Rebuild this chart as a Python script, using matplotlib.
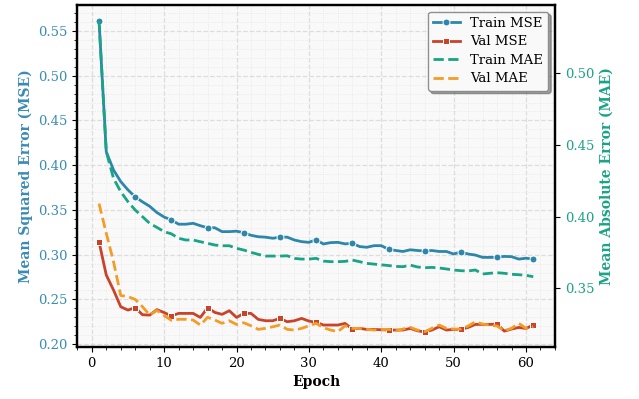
import numpy as np
import matplotlib
matplotlib.use("Agg")
import matplotlib.pyplot as plt
from matplotlib.ticker import MultipleLocator

epochs = list(range(1, 62))

train_mse = [0.5615, 0.415, 0.3946, 0.3816, 0.3723, 0.3645, 0.359, 0.354, 0.347, 0.342,
             0.3387, 0.334, 0.334, 0.335, 0.3323, 0.330, 0.330, 0.3257, 0.3257, 0.3262,
             0.3245, 0.3216, 0.320, 0.3195, 0.3183, 0.3195, 0.3195, 0.3163, 0.3145, 0.3137,
             0.3167, 0.3119, 0.3134, 0.3137, 0.312, 0.3127, 0.309, 0.3082, 0.310, 0.310,
             0.306, 0.3046, 0.3035, 0.3054, 0.3046, 0.3040, 0.3046, 0.3035, 0.3035, 0.3007,
             0.3029, 0.3007, 0.2995, 0.2969, 0.2969, 0.2969, 0.298, 0.2977, 0.2950, 0.296,
             0.2950]

val_mse = [0.3144, 0.2772, 0.2604, 0.2417, 0.238, 0.2408, 0.2328, 0.2324, 0.2385, 0.2352,
           0.2315, 0.2343, 0.2343, 0.2343, 0.2298, 0.2406, 0.2354, 0.2332, 0.2373, 0.2298,
           0.2343, 0.2343, 0.2276, 0.2261, 0.2261, 0.2287, 0.2250, 0.2261, 0.2287, 0.2257,
           0.2243, 0.2213, 0.2213, 0.2213, 0.2231, 0.2168, 0.2176, 0.2164, 0.2164, 0.2160,
           0.2157, 0.2157, 0.2157, 0.2175, 0.2149, 0.2135, 0.2157, 0.2194, 0.2157, 0.2164,
           0.2164, 0.2186, 0.222, 0.222, 0.222, 0.2224, 0.2145, 0.2168, 0.2186, 0.2175,
           0.2213]

train_mae = [0.5365, 0.4453, 0.4267, 0.4174, 0.4104, 0.4046, 0.400, 0.3953, 0.3925, 0.3895,
             0.388, 0.3849, 0.3837, 0.3837, 0.3825, 0.3814, 0.3802, 0.3797, 0.3797, 0.3779,
             0.3767, 0.3751, 0.3737, 0.3725, 0.3725, 0.3725, 0.3727, 0.3709, 0.3704, 0.3704,
             0.3709, 0.3690, 0.3686, 0.3686, 0.3688, 0.3697, 0.3686, 0.3674, 0.3669, 0.3664,
             0.3659, 0.3653, 0.3651, 0.3662, 0.3649, 0.3644, 0.3646, 0.3642, 0.3635, 0.3628,
             0.3623, 0.3621, 0.3628, 0.3600, 0.3605, 0.3609, 0.3605, 0.3598, 0.3595, 0.3591,
             0.3581]

val_mae = [0.4091, 0.3884, 0.3686, 0.3450, 0.3442, 0.3423, 0.3372, 0.3314, 0.3346, 0.3310,
           0.3277, 0.3284, 0.3284, 0.3279, 0.3244, 0.3298, 0.3279, 0.3256, 0.3274, 0.3248,
           0.326, 0.3239, 0.3214, 0.3221, 0.3232, 0.3244, 0.3214, 0.3209, 0.3221, 0.3239,
           0.3256, 0.3226, 0.3209, 0.3198, 0.3239, 0.3221, 0.3221, 0.3214, 0.3209, 0.3212,
           0.3214, 0.3204, 0.3216, 0.3228, 0.3209, 0.3198, 0.3221, 0.3244, 0.3221, 0.3216,
           0.3216, 0.3237, 0.3267, 0.3251, 0.3244, 0.3237, 0.3204, 0.3221, 0.3256, 0.3221,
           0.3232]

c_tmse = '#2E86AB'
c_vmse = '#C8432A'
c_tmae = '#1AA385'
c_vmae = '#F39C26'

plt.rcParams['font.family'] = ['DejaVu Serif']

fig = plt.figure(figsize=(6.39, 3.99), dpi=100)
ax = fig.add_axes([0.121, 0.130, 0.7475, 0.8575])
ax.set_facecolor('#f9f9f9')
ax2 = ax.twinx()

l1, = ax.plot(epochs, train_mse, color=c_tmse, lw=2, marker='o', markersize=5,
              markevery=5, markeredgecolor='white', markeredgewidth=0.7, label='Train MSE', zorder=3)
l2, = ax.plot(epochs, val_mse, color=c_vmse, lw=2, marker='s', markersize=5,
              markevery=5, markeredgecolor='white', markeredgewidth=0.7, label='Val MSE', zorder=3)
l3, = ax2.plot(epochs, train_mae, color=c_tmae, lw=2, ls='--', label='Train MAE')
l4, = ax2.plot(epochs, val_mae, color=c_vmae, lw=2, ls='--', label='Val MAE')

ax.set_xlabel('Epoch', fontsize=10, fontweight='bold')
ax.set_ylabel('Mean Squared Error (MSE)', fontsize=10, fontweight='bold', color='#3A8BB5')
ax2.set_ylabel('Mean Absolute Error (MAE)', fontsize=10, fontweight='bold', color=c_tmae)

ax.tick_params(axis='y', colors='#3A8BB5', labelsize=9.5)
ax.tick_params(axis='y', which='both', color='black')
ax.tick_params(axis='x', labelsize=9.5)
ax2.tick_params(axis='y', labelcolor=c_tmae, labelsize=9.5, color='black')

ax.xaxis.set_major_locator(MultipleLocator(10))
ax.xaxis.set_minor_locator(MultipleLocator(2))
ax.yaxis.set_major_locator(MultipleLocator(0.05))
ax.yaxis.set_minor_locator(MultipleLocator(0.01))
ax2.yaxis.set_major_locator(MultipleLocator(0.05))
ax2.yaxis.set_minor_locator(MultipleLocator(0.05))

ax.grid(True, which='major', ls='--', color='#dddddd', lw=0.9)
ax.grid(True, which='minor', ls=':', color='#e6e6e6', lw=0.6)
ax.set_axisbelow(True)

for a in (ax, ax2):
    for s in a.spines.values():
        s.set_linewidth(1.6)
        s.set_color('black')

ax.set_xlim(-2, 64)
ax.set_ylim(0.1966, 0.579)
ax2.set_ylim(0.309, 0.5476)

leg = ax2.legend(handles=[l1, l2, l3, l4], loc='upper right', fontsize=9.5,
                 frameon=True, fancybox=True, shadow=True, framealpha=0.95,
                 edgecolor='#888888', borderpad=0.4, labelspacing=0.42, handlelength=2.0)

fig.savefig('out.png', dpi=100)
